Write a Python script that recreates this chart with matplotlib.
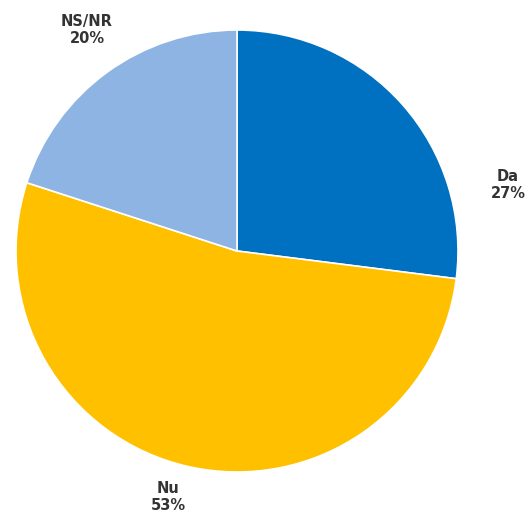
import matplotlib
matplotlib.use("Agg")
import matplotlib.pyplot as plt

categories = ["Da", "Nu", "NS/NR"]
values = [27, 53, 20]
colors = ["#0070C0", "#FFC000", "#8EB4E3"]

W, H = 532, 521
fig = plt.figure(figsize=(W / 100, H / 100), dpi=100)
ax = fig.add_axes([0, 0, 1, 1])
ax.set_xlim(0, W)
ax.set_ylim(0, H)
ax.set_aspect("equal")
ax.axis("off")

cx, cy, r = 237, H - 251, 221
ax.pie(values, colors=colors, startangle=90, counterclock=False,
       center=(cx, cy), radius=r, frame=True,
       wedgeprops=dict(edgecolor="white", linewidth=1.2))
ax.set_xlim(0, W)
ax.set_ylim(0, H)
ax.axis("off")

label_pos = {"Da": (508, H - 185), "Nu": (168, H - 497), "NS/NR": (87, H - 30)}
for cat, val in zip(categories, values):
    x, y = label_pos[cat]
    ax.text(x, y, f"{cat}\n{val}%", ha="center", va="center",
            fontsize=10.5, fontweight="bold", color="#333333",
            linespacing=1.1, family="DejaVu Sans")

fig.savefig("out.png", dpi=100)
